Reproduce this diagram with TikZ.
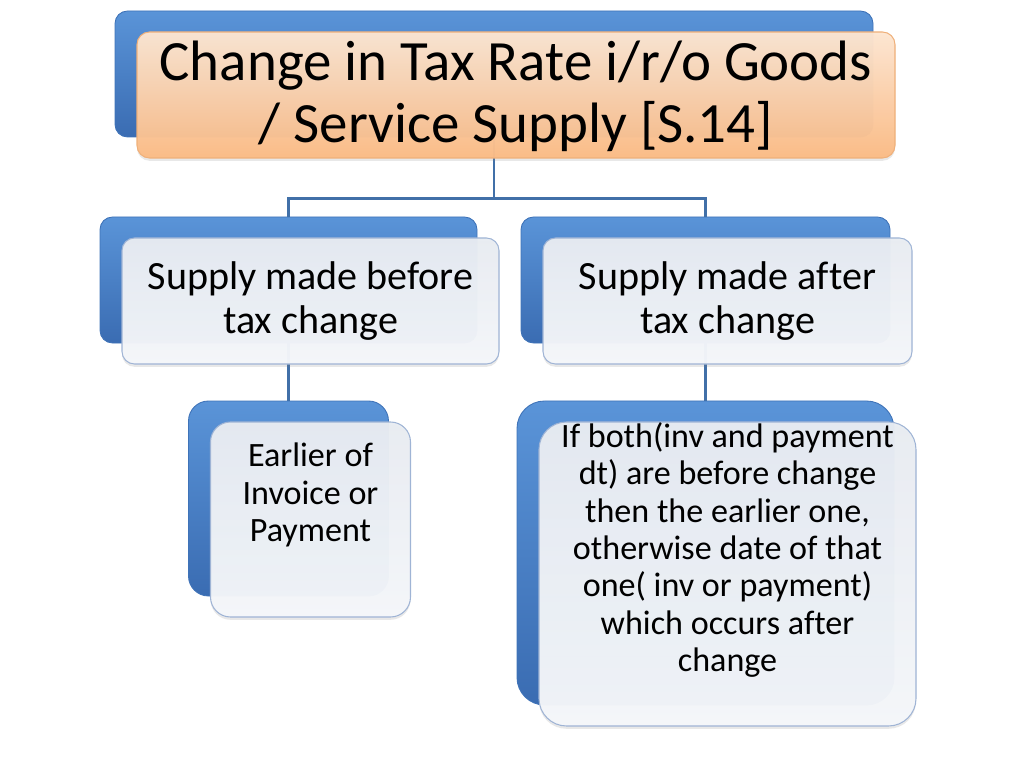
\documentclass[tikz,border=0pt]{standalone}
\usepackage{fontspec}
\setmainfont{Carlito}[Ligatures=NoCommon]
\usepackage{xcolor}
\usetikzlibrary{shadows}

\definecolor{bluetop}{HTML}{5A94D8}
\definecolor{bluebot}{HTML}{3A6CB2}
\definecolor{blueedge}{HTML}{3F73B8}
\definecolor{peachtop}{HTML}{FDE6D2}
\definecolor{peachbot}{HTML}{FBBB85}
\definecolor{peachedge}{HTML}{EFB07A}
\definecolor{greytop}{HTML}{E8ECF2}
\definecolor{greybot}{HTML}{F5F7FA}
\definecolor{greyedge}{HTML}{9FB4D5}
\definecolor{linkblue}{HTML}{4170A8}

\begin{document}
\begin{tikzpicture}[
  backbox/.style={rectangle, draw=blueedge, line width=.5pt,
    top color=bluetop, bottom color=bluebot},
  frontbox/.style={rectangle, line width=.6pt, fill opacity=.97,
    drop shadow={opacity=.18, shadow xshift=0pt, shadow yshift=-1.6pt}},
  peachbox/.style={draw=peachedge, top color=peachtop, bottom color=peachbot},
  greybox/.style={draw=greyedge, top color=greytop, bottom color=greybot},
  link/.style={draw=linkblue, line width=1.4pt},
  bigtext/.style={align=center, font=\fontsize{32.4}{35.2}\selectfont},
  midtext/.style={align=center, font=\fontsize{22.8}{25}\selectfont},
  smalltext/.style={align=center, font=\fontsize{19.4}{21.3}\selectfont},
]
  \useasboundingbox (0,0) rectangle (20.48,-15.36);

  % blue boxes at the back
  \foreach \nm/\cx/\cy/\w/\h/\r in {
      top/9.88/-1.48/15.16/2.52/.25,
      bef/5.77/-5.60/7.54/2.52/.25,
      aft/14.11/-5.60/7.38/2.52/.25,
      ear/5.77/-9.97/4.00/3.90/.4,
      ifb/14.11/-11.06/7.54/6.08/.55}
    \node[backbox, rounded corners=\r cm, minimum width=\w cm,
      minimum height=\h cm] (\nm b) at (\cx,\cy) {};

  % connectors
  \draw[link] (topb.south) -- ++(0,-1.22) coordinate (fork) -| (befb.north);
  \draw[link] (fork) -| (aftb.north);
  \draw[link] (befb.south) -- (earb.north);
  \draw[link] (aftb.south) -- (ifbb.north);

  % boxes in front
  \foreach \nm/\w/\h/\r/\sty in {
      top/15.16/2.52/.25/peachbox,
      bef/7.54/2.52/.25/greybox,
      aft/7.38/2.52/.25/greybox,
      ear/4.00/3.90/.4/greybox,
      ifb/7.54/6.08/.55/greybox}
    \node[frontbox, \sty, rounded corners=\r cm, minimum width=\w cm,
      minimum height=\h cm] (\nm) at ([shift={(.44,-.42)}]\nm b.center) {};

  \node[bigtext] (toptxt) at ([yshift=-.03cm]top.center)
    {Change in Tax Rate i/r/o Goods\\/ Service Supply [S.14]};
  \node[midtext] (beftxt) at (bef.center) {Supply made before\\tax change};
  \node[midtext] (afttxt) at (aft.center) {Supply made after\\tax change};
  \node[smalltext] (eartxt) at ([yshift=.49cm]ear.center)
    {Earlier of\\Invoice or\\Payment};
  \node[smalltext] (ifbtxt) at ([yshift=.48cm]ifb.center)
    {If both(inv and payment\\dt) are before change\\then the earlier one,\\otherwise date of that\\one( inv or payment)\\which occurs after\\change};
\end{tikzpicture}
\end{document}
